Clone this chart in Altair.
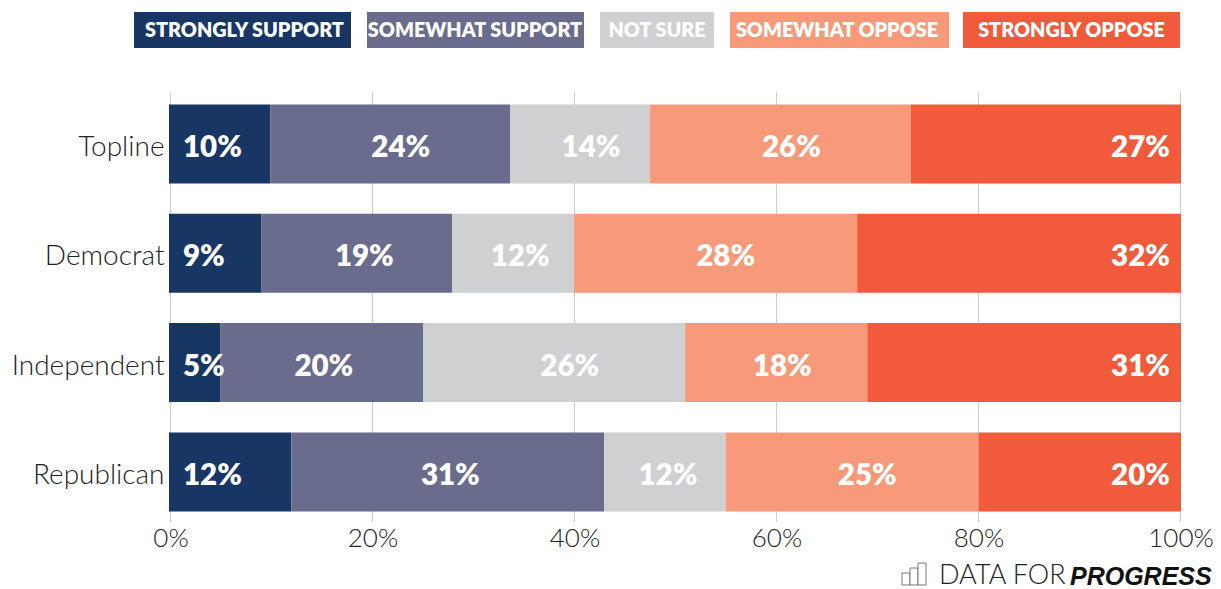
import altair as alt
import pandas as pd

groups = ["Topline", "Democrat", "Independent", "Republican"]
answers = ["STRONGLY SUPPORT", "SOMEWHAT SUPPORT", "NOT SURE", "SOMEWHAT OPPOSE", "STRONGLY OPPOSE"]
colors = ["#183663", "#696c8c", "#cfd0d2", "#f89a7a", "#f15a3b"]
topline = [10, 23.7, 13.8, 25.8, 26.7]
democrat = [9.1, 18.9, 12, 28, 32]
independent = [5.1, 20, 25.9, 18, 31]
republican = [12.1, 30.9, 12, 25, 20]
labels = [["10%", "24%", "14%", "26%", "27%"],
          ["9%", "19%", "12%", "28%", "32%"],
          ["5%", "20%", "26%", "18%", "31%"],
          ["12%", "31%", "12%", "25%", "20%"]]
# where the middle labels sit, read in percent units
label_centres = [[None, 22.9, 41.7, 61.5, None],
                 [None, 19.3, 34.7, 55.0, None],
                 [None, 15.3, 39.6, 60.6, None],
                 [None, 27.8, 49.3, 69.0, None]]
ticks = [0, 20, 40, 60, 80, 100]

rows = []
for g, vals, labs, cents in zip(groups, [topline, democrat, independent, republican], labels, label_centres):
    start = 0
    for a, v, lab, c in zip(answers, vals, labs, cents):
        rows.append(dict(group=g, answer=a, start=start, end=start + v, label=lab, centre=c))
        start += v
df = pd.DataFrame(rows)

FONT = "Lato"
bar_x = alt.Scale(domain=[0, 100], nice=False, zero=False)
y_scale = alt.Scale(domain=groups, paddingInner=0.277, paddingOuter=0.105, align=0.54)
y_enc = alt.Y("group:N", scale=y_scale, sort=groups, title=None,
              axis=alt.Axis(domain=False, ticks=False, grid=False, labelFont=FONT, labelFontSize=28,
                            labelFontWeight=300, labelColor="#222222", labelPadding=5, labelLimit=200,
                            labelOffset=4))

grid = alt.Chart(pd.DataFrame({"t": ticks})).mark_rule(color="#cccccc", strokeWidth=1).encode(
    x=alt.X("t:Q", title=None, scale=alt.Scale(domain=[-0.15, 100.05], nice=False, zero=False),
            axis=alt.Axis(values=ticks, grid=False, domain=False, ticks=False, labelExpr="datum.value + '%'",
                          labelFont=FONT, labelFontSize=26, labelFontWeight=300, labelColor="#222222",
                          labelPadding=3, labelFlush=False, labelOverlap=False))
)

bars = alt.Chart(df).mark_bar(size=79, opacity=1).encode(
    x=alt.X("start:Q", scale=bar_x, axis=None),
    x2="end:Q",
    y=y_enc,
    color=alt.Color("answer:N", scale=alt.Scale(domain=answers, range=colors), legend=None),
)

txt = dict(color="white", font=FONT, fontSize=29.5, fontWeight=800, baseline="middle", dy=4)
first = alt.Chart(df[df.answer == answers[0]]).mark_text(align="left", dx=14, **txt).encode(
    x=alt.X("start:Q", scale=bar_x, axis=None), y=y_enc, text="label:N")
middle = alt.Chart(df[df.centre.notna()]).mark_text(align="center", **txt).encode(
    x=alt.X("centre:Q", scale=bar_x, axis=None), y=y_enc, text="label:N")
last = alt.Chart(df[df.answer == answers[-1]]).mark_text(align="right", dx=-11, **txt).encode(
    x=alt.X("end:Q", scale=bar_x, axis=None), y=y_enc, text="label:N")

one = pd.DataFrame({"a": [0]})
key = []
legend_left = [-35, 198, 431, 561, 794]
legend_right = [182, 415, 545, 780, 1011]
legend_text_x = [75.5, 306, 488, 668, 902.5]
for name, col, l, r, c in zip(answers, colors, legend_left, legend_right, legend_text_x):
    key.append(alt.Chart(one).mark_rect(color=col, opacity=1).encode(
        x=alt.value(l), x2=alt.value(r), y=alt.value(-80), y2=alt.value(-44)))
    key.append(alt.Chart(one).mark_text(color="white", font=FONT, fontSize=19.8, fontWeight=800, align="center",
                                        baseline="middle").encode(
        x=alt.value(c), y=alt.value(-61.5), text=alt.value(name)))

logo = [
    alt.Chart(one).mark_text(font=FONT, fontSize=27, fontWeight=300, color="#222222", align="left", baseline="middle").encode(
        x=alt.value(770), y=alt.value(484), text=alt.value("DATA FOR")),
    alt.Chart(one).mark_text(font="Liberation Sans", fontSize=25, fontWeight="bold", fontStyle="italic", color="#111111",
                             align="left", baseline="alphabetic").encode(
        x=alt.value(901), y=alt.value(493), text=alt.value("PROGRESS")),
]
for l, r, top in [(733, 741, 481), (741, 749, 476), (749, 757, 471)]:
    logo.append(alt.Chart(one).mark_rect(fill="white", stroke="#777777", strokeWidth=1, opacity=1).encode(
        x=alt.value(l), x2=alt.value(r), y=alt.value(top), y2=alt.value(493)))

chart = alt.layer(grid, bars, first, middle, last, *key, *logo).resolve_scale(x="independent").properties(
    width=1012, height=430,
    autosize=alt.AutoSizeParams(type="none"),
    padding={"left": 161, "top": 84, "right": 32, "bottom": 67},
).configure_view(stroke=None)

chart.save("out.html", embed_options={"renderer": "svg", "actions": False})
